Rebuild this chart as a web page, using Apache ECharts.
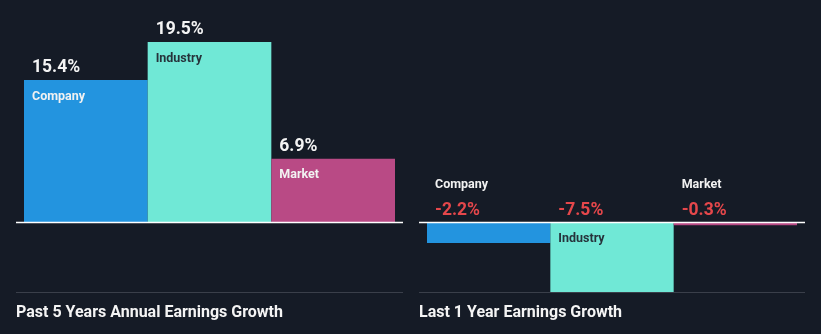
<!DOCTYPE html>
<html>
<head>
<meta charset="utf-8">
<script src="https://cdn.jsdelivr.net/npm/echarts@6/dist/echarts.min.js"></script>
<style>
  html, body { margin: 0; padding: 0; background: #151b26; }
  #chart { width: 821px; height: 334px; }
</style>
</head>
<body>
<div id="chart"></div>
<script>
// Earnings growth: company vs industry vs market
const categories = ['Company', 'Industry', 'Market'];
const past5Years = [15.4, 19.5, 6.9];
const last1Year = [-2.2, -7.5, -0.3];
const panelTitles = ['Past 5 Years Annual Earnings Growth', 'Last 1 Year Earnings Growth'];
const axisMin = -7.5;
const axisMax = 19.5;

const barColors = ['#2394df', '#70e8d6', '#b94a85'];
const nameColors = ['#f2f2f2', '#26333b', '#f2f2f2'];
const positiveColor = '#f4f4f4';
const negativeColor = '#e5474b';
const FONT = 'Roboto, "Noto Sans", sans-serif';

const chart = echarts.init(document.getElementById('chart'), null, { renderer: 'canvas' });

function text(x, y, str, color, size) {
  return {
    type: 'text', x: x, y: y,
    style: {
      text: str, fill: color, fontSize: size, fontWeight: 'bold',
      fontFamily: FONT, align: 'left', verticalAlign: 'middle'
    }
  };
}

// Value and name labels placed from the axes' own coordinates
function renderLabels(params, api) {
  const i = api.value(0);
  const v = api.value(1);
  const end = api.coord([i, v]);
  const zero = api.coord([i, 0]);
  const band = api.size([1, 0])[0];
  const x = end[0] - band / 2 + 8;
  const valueStr = v.toFixed(1) + '%';
  const children = [];
  if (v >= 0) {
    children.push(text(x, end[1] - 12.5, valueStr, positiveColor, 17.5));
    children.push(text(x, end[1] + 16.5, categories[i], nameColors[i], 12.5));
  } else {
    children.push(text(x, zero[1] - 11.5, valueStr, negativeColor, 17.5));
    if (end[1] - zero[1] > 30) {
      children.push(text(x, zero[1] + 16.5, categories[i], nameColors[i], 12.5));
    } else {
      children.push(text(x, zero[1] - 37.5, categories[i], '#f2f2f2', 12.5));
    }
  }
  return { type: 'group', children: children };
}

function barSeries(values, idx) {
  return {
    type: 'bar',
    xAxisIndex: idx, yAxisIndex: idx,
    barWidth: '100%',
    barCategoryGap: 0,
    silent: true,
    data: values.map((v, i) => ({ value: v, itemStyle: { color: barColors[i] } }))
  };
}

function labelSeries(values, idx) {
  return {
    type: 'custom',
    xAxisIndex: idx, yAxisIndex: idx,
    clip: false, silent: true, z: 5,
    encode: { x: 0, y: 1 },
    renderItem: renderLabels,
    data: values.map((v, i) => [i, v])
  };
}

const grids = [
  { left: 24, right: 426, top: 42, bottom: 42 },
  { left: 427, right: 24, top: 42, bottom: 42 }
];

const xAxes = grids.map((g, idx) => ({
  type: 'category', gridIndex: idx, data: categories,
  axisLine: { show: false }, axisTick: { show: false }, axisLabel: { show: false }
}));
const yAxes = grids.map((g, idx) => ({
  type: 'value', gridIndex: idx, min: axisMin, max: axisMax,
  axisLine: { show: false }, axisTick: { show: false }, axisLabel: { show: false },
  splitLine: { show: false }
}));

chart.setOption({
  backgroundColor: '#151b26',
  animation: false,
  grid: grids,
  xAxis: xAxes,
  yAxis: yAxes,
  series: [
    barSeries(past5Years, 0), labelSeries(past5Years, 0),
    barSeries(last1Year, 1), labelSeries(last1Year, 1)
  ]
});

// Baselines, bottom rules and panel titles, positioned from the value axes
const spans = [[16, 403], [419, 805]];
const graphics = [];
spans.forEach((s, idx) => {
  const yZero = chart.convertToPixel({ yAxisIndex: idx }, 0);
  const yMin = chart.convertToPixel({ yAxisIndex: idx }, axisMin);
  graphics.push({
    type: 'line', z: 1, silent: true,
    shape: { x1: s[0], y1: yMin + 0.5, x2: s[1], y2: yMin + 0.5 },
    style: { stroke: '#3a3f4a', lineWidth: 1 }
  });
  graphics.push({
    type: 'line', z: 10, silent: true,
    shape: { x1: s[0], y1: yZero, x2: s[1], y2: yZero },
    style: { stroke: '#ffffff', lineWidth: 1.5 }
  });
  graphics.push(Object.assign(text(s[0], 312.5, panelTitles[idx], '#f4f4f4', 16), { z: 10 }));
});
chart.setOption({ graphic: graphics });
</script>
</body>
</html>
